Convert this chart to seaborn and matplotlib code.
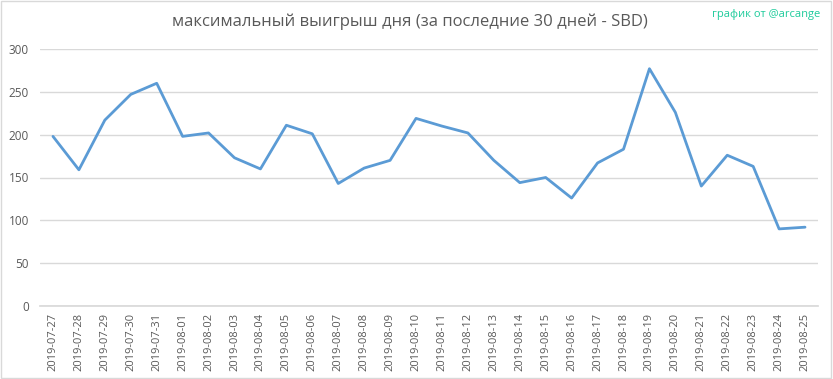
import matplotlib.pyplot as plt
import pandas as pd
import seaborn as sns
from matplotlib.patches import Rectangle

dates = pd.date_range("2019-07-27", "2019-08-25").strftime("%Y-%m-%d").tolist()
max_win = [198, 159, 217, 247, 260, 198, 202, 173, 160, 211,
           201, 143, 161, 170, 219, 210, 202, 170, 144, 150,
           126, 167, 183, 277, 226, 140, 176, 163, 90, 92]
y_ticks = [0, 50, 100, 150, 200, 250, 300]

title = "максимальный выигрыш дня (за последние 30 дней - SBD)"
credit = "график от @arcange"

sns.set_theme(style="white")
plt.rcParams['font.family'] = ['Open Sans', 'DejaVu Sans']

df = pd.DataFrame({"date": dates, "value": max_win})

fig = plt.figure(figsize=(8.33, 3.79), dpi=100)
ax = fig.add_axes([40 / 833, 1 - 306 / 379, 778 / 833, 257 / 379])

sns.lineplot(data=df, x="date", y="value", ax=ax, color="#5B9BD5",
             linewidth=2, sort=False)

ax.set_xlim(-0.5, len(dates) - 0.5)
ax.set_ylim(0, 300)
ax.set_yticks(y_ticks)
ax.yaxis.grid(True, color="#D9D9D9", linewidth=1)
ax.xaxis.grid(False)
for s in ["top", "right", "left"]:
    ax.spines[s].set_visible(False)
ax.spines["bottom"].set_color("#D9D9D9")
ax.set_xlabel("")
ax.set_ylabel("")
ax.tick_params(axis="x", rotation=90, labelsize=8, colors="#595959", length=0, pad=5)
ax.tick_params(axis="y", labelsize=8.5, colors="#595959", length=0, pad=8)

fig.text(410 / 833, 1 - 22 / 379, title, ha="center", va="center",
         fontsize=12, color="#595959")
fig.text(820 / 833, 1 - 14 / 379, credit, ha="right", va="center",
         fontsize=8, color="#1ECB9B")

fig.patches.append(Rectangle((0.001, 0.002), 0.997, 0.995, transform=fig.transFigure,
                             fill=False, edgecolor="#D9D9D9", linewidth=1))

fig.savefig("out.png", dpi=100)
